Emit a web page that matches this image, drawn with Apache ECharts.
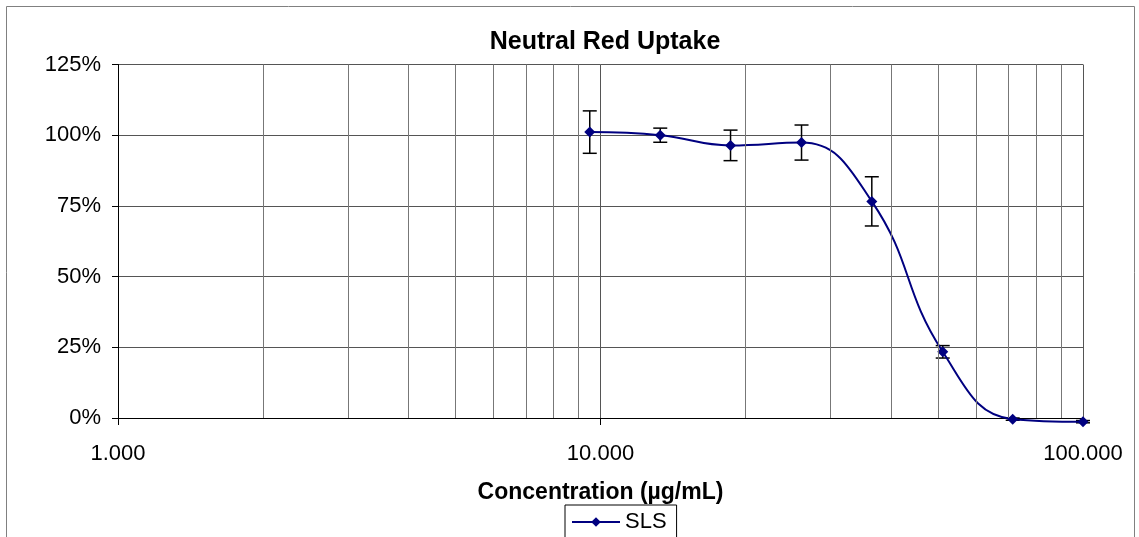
<!DOCTYPE html>
<html>
<head>
<meta charset="utf-8">
<script src="https://cdn.jsdelivr.net/npm/echarts@6/dist/echarts.min.js"></script>
<style>
  html, body { margin: 0; padding: 0; background: #fff; }
  #chart { width: 1139px; height: 537px; }
</style>
</head>
<body>
<div id="chart"></div>
<script>
// concentration (µg/mL) and viability (%)
var concentrations = [9.5, 13.3, 18.6, 26.1, 36.5, 51.2, 71.5, 100];
var uptake = [101.1, 100.0, 96.4, 97.4, 76.6, 23.4, -0.4, -1.3];
var errors = [7.5, 2.5, 5.4, 6.2, 8.7, 2.2, 0.4, 0.4];
var yTicks = [0, 25, 50, 75, 100, 125];
var minorX = [2, 3, 4, 5, 6, 7, 8, 9, 20, 30, 40, 50, 60, 70, 80, 90];

var font = "Liberation Sans, Arial, sans-serif";
var chart = echarts.init(document.getElementById("chart"));

var points = concentrations.map(function (c, i) { return [c, uptake[i]]; });
var bars = concentrations.map(function (c, i) {
  return [c, uptake[i] - errors[i], uptake[i] + errors[i]];
});

chart.setOption({
  animation: false,
  backgroundColor: "#fff",
  title: {
    text: "Neutral Red Uptake",
    left: 600,
    textAlign: "center",
    top: 25,
    textStyle: { fontFamily: font, fontSize: 25, fontWeight: "bold", color: "#000" }
  },
  graphic: [
    {
      type: "rect",
      shape: { x: 6.5, y: 6.5, width: 1128, height: 560 },
      style: { fill: null, stroke: "#808080", lineWidth: 1 },
      silent: true
    }
  ],
  legend: {
    data: ["SLS"],
    left: 565,
    top: 505,
    itemWidth: 48,
    itemHeight: 12,
    padding: [6, 10, 8, 6],
    borderColor: "#000",
    borderWidth: 1,
    borderRadius: 0,
    textStyle: { fontFamily: font, fontSize: 22, color: "#000" }
  },
  grid: { left: 118, right: 56, top: 64.5, bottom: 119 },
  xAxis: {
    type: "log",
    logBase: 10,
    min: 1,
    max: 100,
    name: "Concentration (µg/mL)",
    nameLocation: "middle",
    nameGap: 63,
    nameTextStyle: { fontFamily: font, fontSize: 23, fontWeight: "bold", color: "#000" },
    axisLine: { lineStyle: { color: "#000", width: 1 } },
    axisTick: { show: true, inside: false, length: 7, lineStyle: { color: "#000" } },
    axisLabel: {
      fontFamily: font, fontSize: 22, color: "#000", margin: 25,
      formatter: function (v) { return Number(v).toFixed(3); }
    },
    splitLine: { show: true, lineStyle: { color: "#555", width: 1 } }
  },
  yAxis: {
    type: "value",
    min: 0,
    max: 125,
    interval: 25,
    axisLine: { show: true, lineStyle: { color: "#000", width: 1 } },
    axisTick: { show: true, inside: false, length: 6, lineStyle: { color: "#000" } },
    axisLabel: {
      fontFamily: font, fontSize: 22, color: "#000", margin: 17,
      formatter: function (v) { return yTicks.indexOf(v) >= 0 ? v + "%" : ""; }
    },
    splitLine: { show: true, lineStyle: { color: "#555", width: 1 } }
  },
  series: [
    {
      name: "minor",
      type: "line",
      data: [],
      silent: true,
      markLine: {
        symbol: "none",
        silent: true,
        label: { show: false },
        lineStyle: { color: "#777", width: 1, type: "solid" },
        data: minorX.map(function (v) { return { xAxis: v }; })
      }
    },
    {
      name: "errors",
      type: "custom",
      clip: false,
      z: 3,
      data: bars,
      renderItem: function (params, api) {
        var x = api.value(0);
        var lo = api.coord([x, api.value(1)]);
        var hi = api.coord([x, api.value(2)]);
        var cap = 7;
        var st = { stroke: "#000", lineWidth: 1.5 };
        return {
          type: "group",
          children: [
            { type: "line", shape: { x1: lo[0], y1: lo[1], x2: hi[0], y2: hi[1] }, style: st },
            { type: "line", shape: { x1: lo[0] - cap, y1: lo[1], x2: lo[0] + cap, y2: lo[1] }, style: st },
            { type: "line", shape: { x1: hi[0] - cap, y1: hi[1], x2: hi[0] + cap, y2: hi[1] }, style: st }
          ]
        };
      }
    },
    {
      name: "SLS",
      type: "line",
      data: points,
      smooth: 0.45,
      clip: false,
      z: 4,
      symbol: "diamond",
      symbolSize: 11,
      itemStyle: { color: "#000080" },
      lineStyle: { color: "#000080", width: 2 }
    }
  ]
});
</script>
</body>
</html>
